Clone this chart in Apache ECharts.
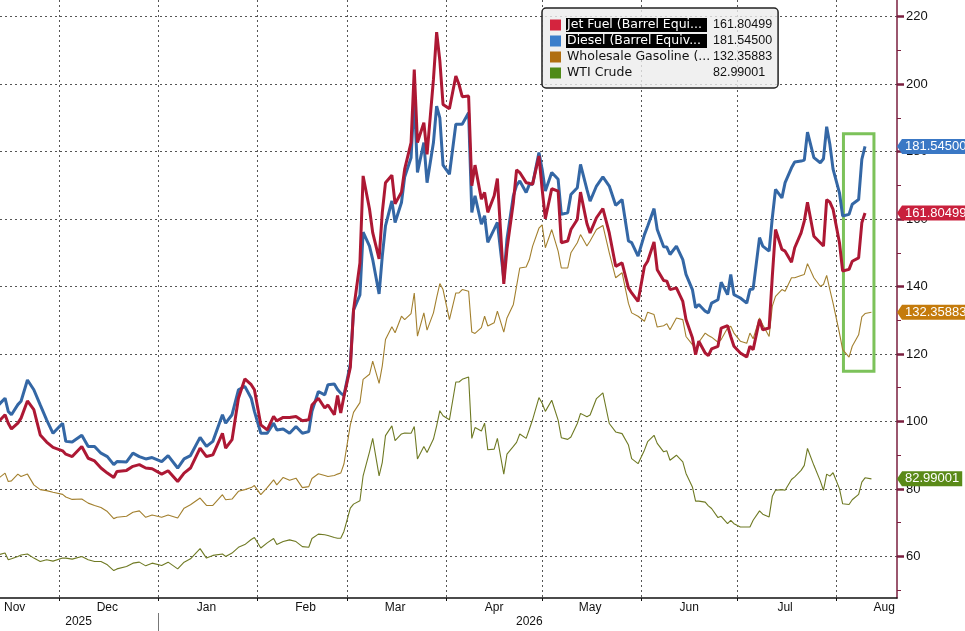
<!DOCTYPE html>
<html>
<head>
<meta charset="utf-8">
<script src="https://cdn.jsdelivr.net/npm/echarts@6/dist/echarts.min.js"></script>
<style>
html,body{margin:0;padding:0;background:#ffffff;}
#chart{width:965px;height:631px;}
</style>
</head>
<body>
<div id="chart"></div>
<script>
// ---------------- data ----------------
const dates = [
'2025-11-12','2025-11-14','2025-11-15','2025-11-16','2025-11-18','2025-11-19','2025-11-21','2025-11-23','2025-11-25','2025-11-27',
'2025-11-29','2025-12-02','2025-12-03','2025-12-05','2025-12-08','2025-12-10','2025-12-12','2025-12-14','2025-12-16','2025-12-18',
'2025-12-19','2025-12-22','2025-12-24','2025-12-26','2025-12-28','2025-12-30','2026-01-02','2026-01-04','2026-01-07','2026-01-09',
'2026-01-11','2026-01-14','2026-01-16','2026-01-18','2026-01-21','2026-01-22','2026-01-24','2026-01-26','2026-01-28','2026-01-30',
'2026-01-31','2026-02-02','2026-02-04','2026-02-06','2026-02-07','2026-02-09','2026-02-11','2026-02-13','2026-02-15','2026-02-17',
'2026-02-18','2026-02-20','2026-02-22','2026-02-23','2026-02-25','2026-02-26','2026-02-27','2026-02-28','2026-03-02','2026-03-03',
'2026-03-05','2026-03-06','2026-03-08','2026-03-09','2026-03-11','2026-03-12','2026-03-13','2026-03-15','2026-03-16','2026-03-18',
'2026-03-19','2026-03-21','2026-03-22','2026-03-23','2026-03-25','2026-03-26','2026-03-28','2026-03-29','2026-03-30','2026-03-31',
'2026-04-02','2026-04-04','2026-04-05','2026-04-06','2026-04-08','2026-04-09','2026-04-10','2026-04-12','2026-04-13','2026-04-14',
'2026-04-16','2026-04-17','2026-04-19','2026-04-20','2026-04-22','2026-04-23','2026-04-24','2026-04-26','2026-04-27','2026-04-28',
'2026-04-30','2026-05-01','2026-05-02','2026-05-04','2026-05-06','2026-05-07','2026-05-09','2026-05-10','2026-05-12','2026-05-13',
'2026-05-15','2026-05-16','2026-05-18','2026-05-20','2026-05-22','2026-05-24','2026-05-26','2026-05-28','2026-05-29','2026-05-31',
'2026-06-02','2026-06-03','2026-06-05','2026-06-06','2026-06-08','2026-06-09','2026-06-10','2026-06-12','2026-06-14','2026-06-15',
'2026-06-17','2026-06-18','2026-06-19','2026-06-21','2026-06-22','2026-06-23','2026-06-25','2026-06-26','2026-06-28','2026-06-29',
'2026-06-30','2026-07-02','2026-07-04','2026-07-05','2026-07-06','2026-07-08','2026-07-09','2026-07-11','2026-07-12','2026-07-13',
'2026-07-15','2026-07-16','2026-07-18','2026-07-19','2026-07-21','2026-07-22','2026-07-23','2026-07-25','2026-07-27','2026-07-28',
'2026-07-29','2026-07-30','2026-07-31','2026-08-02','2026-08-03','2026-08-05','2026-08-06','2026-08-08','2026-08-09','2026-08-10',
'2026-08-12'
];

const jetFuel = [
100,102,99.5,97.8,99.5,101,106.1,103.5,96,93.9,
92.3,91.3,90.3,89.6,92.6,89.1,88.3,86.2,84.7,83.4,
85.2,85.5,86.7,87.2,86.2,86,84.4,85.4,82.2,84.7,
86.2,92.1,89.6,90.1,96.5,92.1,94.6,106.9,112.6,110.9,
109.4,99,97.5,101.5,100.2,101.2,101.2,101.5,100.2,100.5,
104.9,106.9,104,104.9,102,107.7,102.5,107.4,116,133,
147,172.8,163,156,148.2,162,170.8,173,164.5,168,
174.8,182.7,204.3,182.7,188.6,179.2,201.4,215.4,207,194,
192.7,202.4,199.9,196.3,196.5,169.9,176,165.9,167.9,162,
166.9,172,140.8,151.1,165,174.6,173.8,170.8,170.6,170.3,
178.7,168.9,160.1,169,168.3,153,153.5,156.9,159.9,168,
158.7,155.9,160.4,163.1,155.9,146,147,139.6,138.1,135.6,
146,147.5,153.2,145,141.8,141.6,139.1,139.6,135.6,130.2,
124.8,119.8,123.8,120.3,119.5,121.5,122.3,127.7,128.4,125.2,
122.3,120.3,119.1,122.3,121.3,130.2,127.2,127.7,143.1,156.9,
151,150.5,147.2,151.5,155.9,159.4,165,154.9,153,152,
165.8,165,162.9,153,144.6,145.1,147.5,148.5,158.9,161.80499,
null
];

const diesel = [
104.9,106.9,103,102,105,106,112.3,109.4,104.9,100.5,
96.5,99.5,94.1,93.9,95.9,92.6,92.6,90.6,89.6,87.2,
88.1,88,90.6,89.6,88.9,89.3,88.1,89.9,86.2,88.9,
89.9,95.3,92.6,94.1,102,99.5,102,109.4,110.4,106.9,
103,96.5,96.5,99.5,97.5,97.8,96.5,98.5,96.5,97,
103,108.9,107.9,110.9,111.1,109.5,108.4,107.7,117,133,
137.5,156.1,152,148,137.8,149,158,165.4,159,164.9,
172.5,178.2,196.5,173.8,182.7,170.8,182.7,193.5,190,176,
173.3,188.1,188.1,188.1,191.5,162,166.9,158.5,161,153.1,
157,159,142.3,154.1,166.9,170,171.3,167.9,170.3,170.3,
179.7,174.8,168.3,173.8,171.8,161.4,161.9,167.3,169.3,176.2,
168.8,165.3,169.8,172.5,169.8,164.1,165.8,153.5,153,149,
155.4,157.9,163.1,156.9,151.8,151.7,149.5,152,148,143.6,
139.1,133.7,134.7,132.7,132.2,135.1,136.1,141.3,137.6,143.6,
137.6,136.6,135.1,139.1,139.3,154.5,152,150.5,160.4,168.8,
166.3,170.8,175.2,176.9,177.2,177.5,185.8,178.2,176.7,177.9,
187.4,182.2,174.8,167.8,160.9,161.4,164.4,165.8,177.7,181.545,
null
];

const gasoline = [
83.2,84.7,82.2,82.4,84.4,83.7,84.4,81.2,79.8,79.5,
79,78.4,77.6,76.9,77,75.8,75.1,74.5,73.3,71.2,
71.6,71.9,73.1,73.5,71.6,72.3,71.6,72.3,71.4,74.3,
75.3,77.3,75.1,75.1,78.3,76.8,77,79.3,79.8,80.4,
81,78.3,80.4,82.7,81.2,83.4,82.6,83.2,80.4,80.7,
83.1,84.5,84,83.7,84,84.4,84.7,87.4,99,102.7,
105.6,112.5,114,117.9,111.3,116.5,124.3,128.1,126.3,131.2,
130.2,132,138.1,125.3,132.2,127.1,132.2,136.7,140.9,139.1,
130.2,138.1,138.1,139.1,138.6,126.5,126.1,127.8,131.2,128.3,
129.3,132.7,126.5,130.7,134.7,140.1,145.5,145.8,148,151.9,
157.3,158.3,151.5,156.9,150.5,145.5,145.5,150,153,155.4,
152,153.5,156.9,158.1,150,142.6,144.1,135,132.2,131.2,
129.7,132.4,131.7,128,128.4,129,127.2,130.7,130.2,125.2,
122.8,121.3,123.5,126.2,125.5,125,123.5,124.3,127.7,128.2,
126.2,123.8,123.2,126.2,124.5,130.7,128.7,125.2,134.2,137.1,
139.1,138.6,142.6,142.6,143.3,143.6,146.8,142.6,140.1,140.6,
143.3,139.1,135.1,126.2,121.3,119.1,122.3,125.7,131,132,
132.35883
];

const wtiCrude = [
60.5,61,59,59.3,60,60.4,60.7,59.5,58.5,59,
58.6,59.5,59.5,59.2,60,59,58.5,58.5,57.5,55.8,
56.3,57,58,58.3,57.2,58,57.3,58.3,56.3,58.3,
59.3,62.3,59.5,60.3,60.7,60,61,62.7,63.5,65,
65.6,62.5,64,65.3,63.5,64.4,64.9,64.4,62.9,62.7,
65.3,66.6,66.4,66.2,65.6,65.4,65.4,67.4,74.3,75.5,
76.5,83.9,91,95,83.9,87.9,95.8,98.7,94.3,96.3,
96.6,96.5,98.5,88.9,92.6,90.8,94.8,98.7,103.2,101.7,
100.5,111.7,111.7,112.5,113.2,95,98.2,97.2,99.5,91.6,
91.8,95,84.4,90.3,92.6,93.8,96.3,95,97.7,100.5,
107.1,105.4,103,106.3,100.4,95.2,94.7,95.4,99.4,102.4,
101.4,101.9,106.8,108.5,99.4,96.9,96.4,93,89,87.5,
91.5,94,95.9,93.5,91,91.3,88.5,90,88,84.6,
80.6,76.4,76.4,76.1,75,74.2,71.5,71.9,69.7,70.7,
69.7,68.7,68.7,68.7,70.7,73.5,72.5,71.7,77.8,79.6,
79.8,79.6,82.8,83.6,85.5,87,92,87,82.4,79.6,
84.4,83.8,84.8,80.1,75.6,75.4,76.8,78.4,82,83.3,
82.99001
];

const seriesNames = ['Jet Fuel (Barrel Equi...', 'Diesel (Barrel Equiv...', 'Wholesale Gasoline (...', 'WTI Crude'];
const monthTicks = ['2025-12-01','2026-01-01','2026-02-01','2026-03-01','2026-04-01','2026-05-01','2026-06-01','2026-07-01','2026-08-01'];
const monthLabelDates = ['2025-11-17','2025-12-16','2026-01-16','2026-02-16','2026-03-16','2026-04-16','2026-05-16','2026-06-16','2026-07-16','2026-08-16'];
const monthNames = ['Jan','Feb','Mar','Apr','May','Jun','Jul','Aug','Sep','Oct','Nov','Dec'];
const yearBreaks = ['2026-01-01'];
const yearLabelDates = ['2025-12-07','2026-04-27'];
const yTickLabels = [60,80,100,120,140,160,180,200,220];
const yMinorTicks = [50,70,90,110,130,150,170,190,210];
const highlightBox = [['2026-08-03T06:00:00', 185.3], ['2026-08-12T19:00:00', 114.9]];

// ---------------- style ----------------
const ts = s => {
  const m = s.match(/^(\d{4})-(\d{2})-(\d{2})(?:T(\d{2}):(\d{2}):(\d{2}))?$/);
  return new Date(+m[1], +m[2] - 1, +m[3], m[4] ? +m[4] : 0, m[5] ? +m[5] : 0).getTime();
};
const X_MIN = ts('2025-11-12T10:00:00');
const X_MAX = ts('2026-08-20T00:00:00');
const Y_MIN = 47.67, Y_MAX = 224.95;
const lineColors = ['#ad1834', '#3467a5', '#a3802f', '#6f7a24'];
const legendColors = ['#d4243e', '#3b7ecb', '#b06e10', '#4f8a17'];
const tagColors = ['#c9203d', '#3a78c5', '#c47b0c', '#5a8a18'];
const AXIS_RED = '#7a1f3f';
const FONT = "'Liberation Sans', Arial, sans-serif";

const allValues = [jetFuel, diesel, gasoline, wtiCrude];
const lastValues = allValues.map(arr => { for (let i = arr.length - 1; i >= 0; i--) if (arr[i] != null) return arr[i]; });

function toSeriesData(vals) {
  return dates.map((d, i) => [ts(d), vals[i]]).filter(p => p[1] != null);
}

// small left-pointing triangle used as the pointer of the value tags
function pointerImage(color) {
  const c = document.createElement('canvas');
  c.width = 10; c.height = 30;
  const g = c.getContext('2d');
  g.fillStyle = color;
  g.beginPath(); g.moveTo(10, 0); g.lineTo(0, 15); g.lineTo(10, 30); g.closePath(); g.fill();
  return c;
}

const chart = echarts.init(document.getElementById('chart'), null, {renderer: 'canvas'});

const tagAxes = lastValues.map((v, i) => ({
  type: 'value', position: 'right', min: Y_MIN, max: Y_MAX, z: 6,
  axisLine: {show: false}, axisTick: {show: false}, splitLine: {show: false},
  axisLabel: {
    customValues: [v], margin: 0,
    formatter: () => '{a| }{b|' + v.toFixed(5) + '}',
    rich: {
      a: {width: 5, height: 15, lineHeight: 15, fontSize: 13, backgroundColor: {image: pointerImage(tagColors[i])}},
      b: {backgroundColor: tagColors[i], color: '#ffffff', fontSize: 13, fontFamily: FONT, height: 15, lineHeight: 15, padding: [0, 3, 0, 3]}
    }
  }
}));

const lineSeries = [3, 2, 1, 0].map(i => {
  const s = {
    name: seriesNames[i], type: 'line', xAxisIndex: 0, yAxisIndex: 0,
    data: toSeriesData(allValues[i]), showSymbol: false, symbol: 'none',
    lineStyle: {color: lineColors[i], width: i < 2 ? 3 : 1.1},
    itemStyle: {color: lineColors[i]},
    z: 3 + (3 - i)
  };
  if (i === 0) {
    s.markArea = {
      silent: true, label: {show: false},
      itemStyle: {color: 'rgba(0,0,0,0)', borderColor: '#7cc25a', borderWidth: 3},
      data: [[{xAxis: ts(highlightBox[0][0]), yAxis: highlightBox[0][1]}, {xAxis: ts(highlightBox[1][0]), yAxis: highlightBox[1][1]}]]
    };
  }
  return s;
});

const option = {
  animation: false,
  backgroundColor: '#ffffff',
  grid: {left: 0, right: 68, top: 0, bottom: 33, containLabel: false, outerBoundsMode: 'none'},
  legend: {
    data: seriesNames.map((n, i) => ({name: n, itemStyle: {color: legendColors[i]}})),
    orient: 'vertical', left: 542, top: 8, icon: 'rect', itemWidth: 11, itemHeight: 11, itemGap: 2,
    padding: [10, 6, 8, 8], backgroundColor: 'rgba(236,236,236,0.8)', borderColor: '#222', borderWidth: 1.5, borderRadius: 4,
    selectedMode: false,
    formatter: name => {
      const i = seriesNames.indexOf(name);
      return '{' + (i < 2 ? 'h' : 'n') + '|' + name + '}{v|' + lastValues[i].toFixed(5) + '}';
    },
    textStyle: {
      rich: {
        h: {backgroundColor: '#000000', color: '#ffffff', width: 139, height: 14, lineHeight: 14, padding: [0, 1, 0, 1], fontFamily: 'DejaVu Sans', fontSize: 12.5},
        n: {color: '#111111', width: 139, height: 14, lineHeight: 14, padding: [0, 1, 0, 1], fontFamily: 'DejaVu Sans', fontSize: 12.5},
        v: {color: '#111111', height: 14, lineHeight: 14, padding: [0, 0, 0, 6], fontFamily: FONT, fontSize: 12.5}
      }
    }
  },
  xAxis: [
    {
      type: 'value', min: X_MIN, max: X_MAX, position: 'bottom', scale: true,
      axisLine: {show: true, onZero: false, lineStyle: {color: '#111111', width: 1.5}},
      axisTick: {show: true, customValues: monthTicks.map(ts), length: 3, lineStyle: {color: '#111111'}},
      axisLabel: {show: false},
      splitLine: {show: true, lineStyle: {color: '#555555', type: [2, 3], width: 1}}
    },
    {
      type: 'value', min: X_MIN, max: X_MAX, position: 'bottom', scale: true,
      axisLine: {show: false, onZero: false}, axisTick: {show: false}, splitLine: {show: false},
      axisLabel: {
        customValues: monthLabelDates.map(ts), margin: 4, color: '#111111', fontSize: 12, fontFamily: FONT,
        formatter: v => monthNames[new Date(v).getMonth()]
      }
    },
    {
      type: 'value', min: X_MIN, max: X_MAX, position: 'bottom', offset: 15, scale: true,
      axisLine: {show: false, onZero: false}, splitLine: {show: false},
      axisTick: {show: true, customValues: yearBreaks.map(ts), length: 18, lineStyle: {color: '#777777', width: 1}},
      axisLabel: {
        customValues: yearLabelDates.map(ts), margin: 3, color: '#111111', fontSize: 12, fontFamily: FONT,
        formatter: v => String(new Date(v).getFullYear())
      }
    }
  ],
  yAxis: [
    {
      type: 'value', position: 'right', min: Y_MIN, max: Y_MAX,
      axisLine: {show: true, onZero: false, lineStyle: {color: AXIS_RED, width: 1.5}},
      axisTick: {show: true, customValues: yTickLabels, length: 7, lineStyle: {color: AXIS_RED, width: 2.5}},
      axisLabel: {customValues: yTickLabels, margin: 9, color: '#111111', fontSize: 13, fontFamily: FONT},
      splitLine: {show: true, lineStyle: {color: '#555555', type: [2, 3], width: 1}}
    },
    {
      type: 'value', position: 'right', min: Y_MIN, max: Y_MAX,
      axisLine: {show: false, onZero: false}, splitLine: {show: false}, axisLabel: {show: false},
      axisTick: {show: true, customValues: yMinorTicks, length: 4, lineStyle: {color: AXIS_RED, width: 1}}
    }
  ].concat(tagAxes),
  series: lineSeries
};

chart.setOption(option);
</script>
</body>
</html>
